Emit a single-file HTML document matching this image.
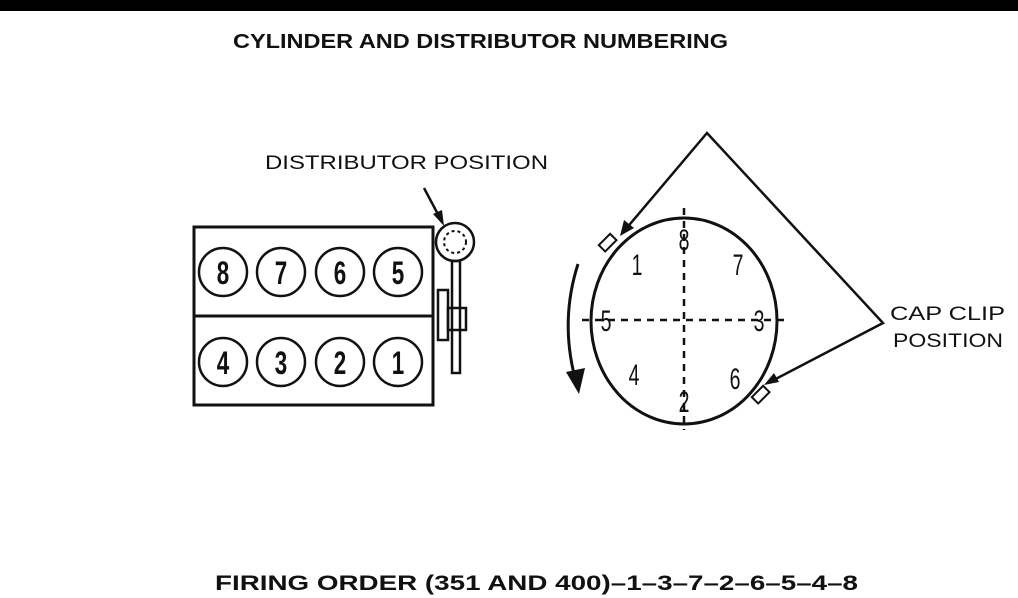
<!DOCTYPE html>
<html><head><style>
html,body{margin:0;padding:0;background:#fff;}
svg{display:block;}
text{font-family:"Liberation Sans",sans-serif;fill:#111;}
</style></head><body>
<svg width="1018" height="598" viewBox="0 0 1018 598" xmlns="http://www.w3.org/2000/svg">
<rect x="0" y="0" width="1018" height="11" fill="#000"/>
<text x="233" y="48" font-size="20" font-weight="bold" textLength="495" lengthAdjust="spacingAndGlyphs">CYLINDER AND DISTRIBUTOR NUMBERING</text>
<text x="265" y="169" font-size="19" textLength="283" lengthAdjust="spacingAndGlyphs">DISTRIBUTOR POSITION</text>
<text x="890" y="320" font-size="19" textLength="115" lengthAdjust="spacingAndGlyphs">CAP CLIP</text>
<text x="893" y="347" font-size="19" textLength="110" lengthAdjust="spacingAndGlyphs">POSITION</text>
<text x="215" y="590" font-size="21" font-weight="bold" textLength="643" lengthAdjust="spacingAndGlyphs">FIRING ORDER (351 AND 400)–1–3–7–2–6–5–4–8</text>
<g fill="none" stroke="#111" stroke-width="3">
<rect x="194" y="227" width="239" height="178"/>
<line x1="194" y1="316" x2="433" y2="316"/>
</g>
<g fill="none" stroke="#111" stroke-width="2.5">
<circle cx="223" cy="272" r="24"/><circle cx="281" cy="272" r="24"/><circle cx="340" cy="272" r="24"/><circle cx="398" cy="272" r="24"/>
<circle cx="223" cy="362" r="24"/><circle cx="281" cy="362" r="24"/><circle cx="340" cy="362" r="24"/><circle cx="398" cy="362" r="24"/>
</g>
<g font-size="32" font-weight="bold" text-anchor="middle">
<text transform="translate(223,284) scale(0.7,1)">8</text><text transform="translate(281,284) scale(0.7,1)">7</text><text transform="translate(340,284) scale(0.7,1)">6</text><text transform="translate(398,284) scale(0.7,1)">5</text>
<text transform="translate(223,374) scale(0.7,1)">4</text><text transform="translate(281,374) scale(0.7,1)">3</text><text transform="translate(340,374) scale(0.7,1)">2</text><text transform="translate(398,374) scale(0.7,1)">1</text>
</g>
<!-- distributor -->
<g fill="none" stroke="#111" stroke-width="2.5">
<circle cx="455" cy="242" r="19"/>
<circle cx="455" cy="242" r="11" stroke-dasharray="3 3" stroke-width="2"/>
<rect x="452" y="261" width="8" height="112"/>
<rect x="438" y="290" width="10" height="50"/>
<rect x="448" y="308" width="18" height="22"/>
</g>
<line x1="424" y1="188" x2="441" y2="220" stroke="#111" stroke-width="2.5"/>
<polygon points="444,226 433,214 442,210" fill="#111"/>
<!-- cap -->
<ellipse cx="684" cy="321" rx="93" ry="103" fill="none" stroke="#111" stroke-width="3"/>
<g stroke="#111" stroke-width="2.5" stroke-dasharray="7 6">
<line x1="684" y1="208" x2="684" y2="430"/>
<line x1="582" y1="320" x2="786" y2="320"/>
</g>
<g font-size="30" text-anchor="middle">
<text transform="translate(684,250) scale(0.65,1)">8</text><text transform="translate(637,275) scale(0.65,1)">1</text><text transform="translate(738,275) scale(0.65,1)">7</text>
<text transform="translate(606,331) scale(0.65,1)">5</text><text transform="translate(759,331) scale(0.65,1)">3</text>
<text transform="translate(634,385) scale(0.65,1)">4</text><text transform="translate(735,389) scale(0.65,1)">6</text><text transform="translate(684,412) scale(0.65,1)">2</text>
</g>
<g fill="#fff" stroke="#111" stroke-width="2">
<rect x="600" y="238" width="16" height="9" transform="rotate(-45 608 243)"/>
<rect x="753" y="390" width="16" height="9" transform="rotate(-45 761 395)"/>
</g>
<polyline points="625,230 707,133 883,323 768,383" fill="none" stroke="#111" stroke-width="2.5"/>
<polygon points="620,236 624,220 634,228" fill="#111"/>
<polygon points="764,385 774,373 779,382" fill="#111"/>
<path d="M578,264 Q560,320 575,378" fill="none" stroke="#111" stroke-width="3"/>
<polygon points="566,372 585,368 579,394" fill="#111"/>
</svg>
</body></html>
